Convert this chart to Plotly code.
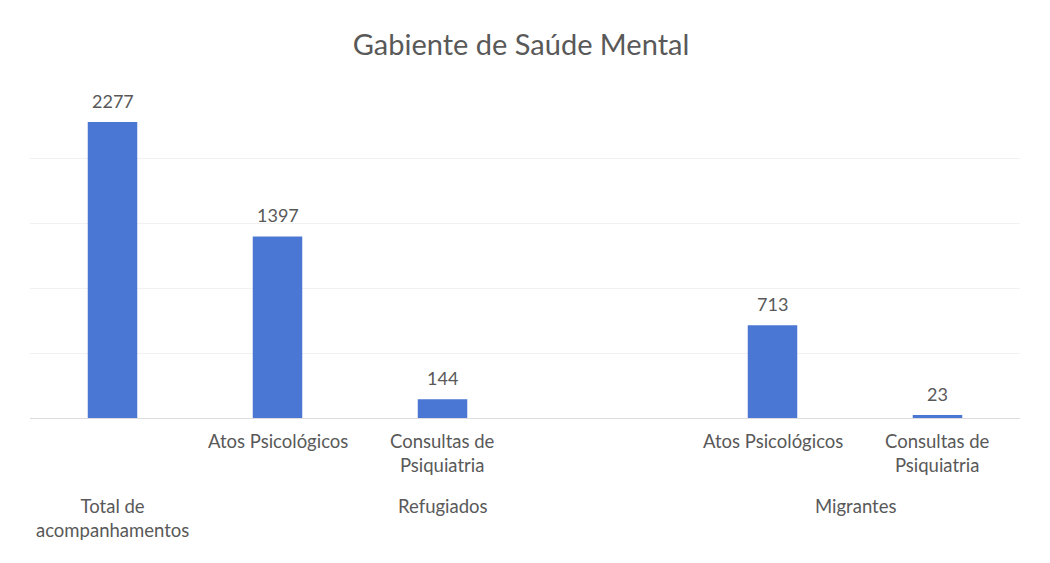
import plotly.graph_objects as go

# Data
sub_labels = ["", "Atos Psicológicos", "Consultas de<br>Psiquiatria", "", "Atos Psicológicos", "Consultas de<br>Psiquiatria"]
values = [2277, 1397, 144, None, 713, 23]
group_labels = ["Total de<br>acompanhamentos", "Refugiados", "Migrantes"]
group_slots = [[0], [1, 2, 3], [4, 5]]
title = "Gabiente de Saúde Mental"

FONT = "Lato"
GRAY = "#595959"
BAR = "#4a76d4"

xs = list(range(len(values)))
fig = go.Figure()
fig.add_trace(go.Bar(
    x=xs, y=values, width=0.3,
    marker=dict(color=BAR, line=dict(width=0)),
    hoverinfo="x+y",
))

annotations = []
for i, v in enumerate(values):
    if v is not None:
        annotations.append(dict(x=i, y=v, xref="x", yref="y", text=str(v), showarrow=False,
                                yanchor="middle", yshift=21,
                                font=dict(family=FONT, size=18, color=GRAY)))
for i, lab in enumerate(sub_labels):
    if lab:
        annotations.append(dict(x=i, y=0, xref="x", yref="y", text=lab, showarrow=False,
                                yanchor="top", yshift=-10,
                                font=dict(family=FONT, size=18.5, color=GRAY)))
for lab, slots in zip(group_labels, group_slots):
    cx = sum(slots) / len(slots)
    annotations.append(dict(x=cx, y=0, xref="x", yref="y", text=lab, showarrow=False,
                            yanchor="top", yshift=-75,
                            font=dict(family=FONT, size=18.5, color=GRAY)))

fig.update_layout(
    width=1050, height=563,
    paper_bgcolor="white", plot_bgcolor="white",
    margin=dict(l=22, r=38, t=85, b=153),
    title=dict(text=title, x=0.4886, xanchor="center", y=0.934, yanchor="middle",
               font=dict(family=FONT, size=29, color=GRAY)),
    xaxis=dict(range=[-0.5, 5.5], showticklabels=False, showgrid=False, zeroline=False,
               showline=False, ticks=""),
    yaxis=dict(range=[0, 2500], dtick=500, showticklabels=False, showgrid=True,
               gridcolor="#f1f1f1", gridwidth=1, zeroline=True, zerolinecolor="#dcdcdc",
               zerolinewidth=1, showline=False),
    showlegend=False,
    annotations=annotations,
    bargap=0.7,
)

fig.write_html("out.html")
